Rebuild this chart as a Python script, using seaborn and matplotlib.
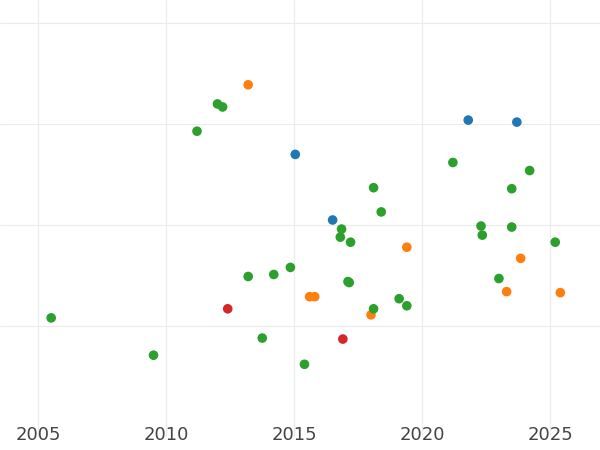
import matplotlib
matplotlib.use("Agg")
import matplotlib.pyplot as plt
import seaborn as sns
import pandas as pd

years = [2005.5, 2009.5, 2011.2, 2012.0, 2012.2, 2013.2, 2012.4, 2013.2, 2013.75, 2014.2,
         2014.85, 2015.04, 2015.4, 2015.6, 2015.8, 2016.5, 2016.85, 2016.8, 2017.2, 2017.1,
         2017.15, 2016.9, 2018.1, 2018.4, 2018.0, 2018.1, 2019.1, 2019.4, 2019.4, 2021.2,
         2021.8, 2022.3, 2022.35, 2023.0, 2023.3, 2023.5, 2023.5, 2023.7, 2023.85, 2024.2,
         2025.2, 2025.4]
values = [1.08, 0.71, 2.93, 3.20, 3.17, 3.39, 1.17, 1.49, 0.88, 1.51,
          1.58, 2.70, 0.62, 1.29, 1.29, 2.05, 1.96, 1.88, 1.83, 1.44,
          1.43, 0.87, 2.37, 2.13, 1.11, 1.17, 1.27, 1.78, 1.20, 2.62,
          3.04, 1.99, 1.90, 1.47, 1.34, 2.36, 1.98, 3.02, 1.67, 2.54,
          1.83, 1.33]
groups = ["g", "g", "g", "g", "g", "o", "r", "g", "g", "g",
          "g", "b", "g", "o", "o", "b", "g", "g", "g", "g",
          "g", "r", "g", "g", "o", "g", "g", "o", "g", "g",
          "b", "g", "g", "g", "o", "g", "g", "b", "o", "g",
          "g", "o"]
palette = {"b": "#1f77b4", "o": "#ff7f0e", "g": "#2ca02c", "r": "#d62728"}

df = pd.DataFrame({"year": years, "value": values, "group": groups})

sns.set_style("whitegrid")
fig = plt.figure(figsize=(6, 4.5), dpi=100)
ax = fig.add_axes([0, 0.029, 1, 0.971])
sns.scatterplot(data=df, x="year", y="value", hue="group", palette=palette,
                s=48, edgecolor="none", legend=False, ax=ax)
ax.set_xlim(2003.5, 2026.95)
ax.set_ylim(-0.1, 4.23)
ax.set_xticks([2005, 2010, 2015, 2020, 2025])
ax.set_yticks([1, 2, 3, 4])
ax.set_yticklabels([])
ax.tick_params(axis="y", length=0)
ax.tick_params(axis="x", length=0, labelsize=13, labelcolor="#444444", pad=-8)
ax.grid(color="#ebebeb", linewidth=0.8)
ax.set_xlabel("")
ax.set_ylabel("")
for s in ax.spines.values():
    s.set_visible(False)
fig.savefig("out.png", dpi=100)
